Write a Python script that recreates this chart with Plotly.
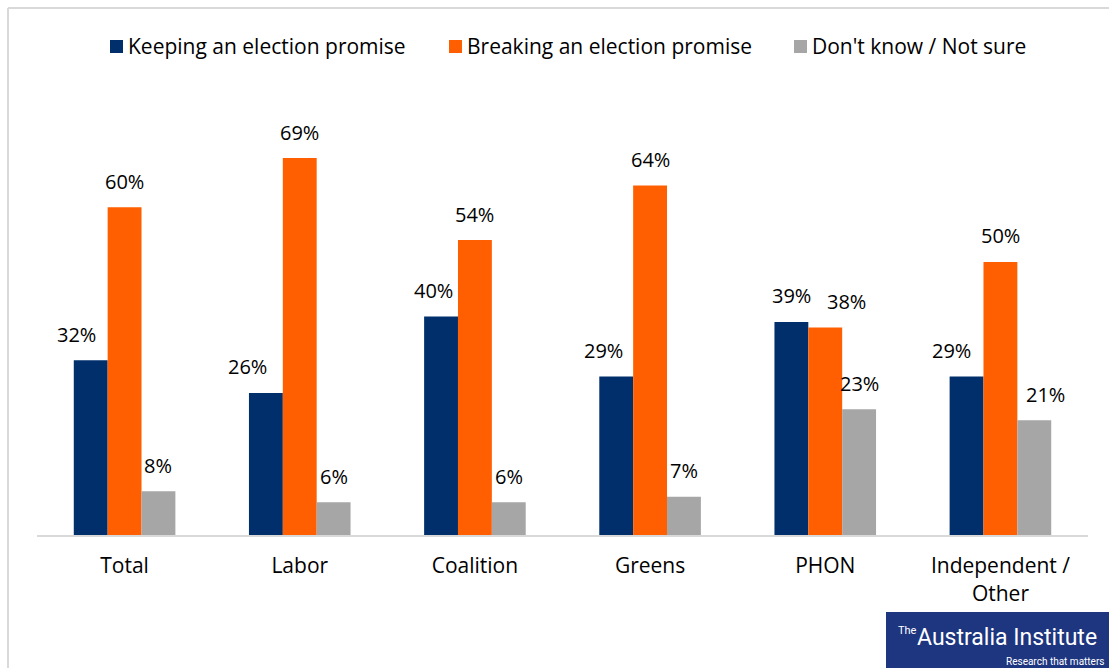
import plotly.graph_objects as go

categories = ["Total", "Labor", "Coalition", "Greens", "PHON", "Independent /<br>Other"]
keeping = [32, 26, 40, 29, 39, 29]
breaking = [60, 69, 54, 64, 38, 50]
dont_know = [8, 6, 6, 7, 23, 21]

series_names = ["Keeping an election promise", "Breaking an election promise", "Don't know / Not sure"]
colors = ["#002f6c", "#ff5f00", "#a6a6a6"]

FONT = "Open Sans"

# page geometry
W, H = 1109, 668
L, R, T, B = 37, 21, 98, 133
PW, PH = W - L - R, H - T - B
BARGAP = 0.42
cat_px = PW / len(categories)
bar_px = cat_px * (1 - BARGAP) / 3

def px(x):
    return (x - L) / PW

def py(y):
    return (H - B - y) / PH

# small label nudges (pixels) as the reference places some labels aside
label_nudge = {
    (0, 0): -14, (0, 1): -18, (0, 2): -8, (0, 3): -13, (0, 4): 0, (0, 5): -15,
    (1, 4): 21,
    (2, 5): 11,
}

fig = go.Figure()
all_vals = [keeping, breaking, dont_know]
for si, (name, vals, col) in enumerate(zip(series_names, all_vals, colors)):
    fig.add_trace(go.Bar(
        x=categories, y=vals, name=name,
        marker=dict(color=col, line=dict(width=0)),
        showlegend=False,
    ))
    for ci, (c, v) in enumerate(zip(categories, vals)):
        fig.add_annotation(
            x=c, y=v, xref="x", yref="y", text=f"{v}%", showarrow=False,
            xshift=(si - 1) * bar_px + label_nudge.get((si, ci), 0), yshift=26,
            yanchor="middle", xanchor="center",
            font=dict(family=FONT, size=20, color="#000000"),
        )

fig.update_layout(
    width=W, height=H,
    margin=dict(l=L, r=R, t=T, b=B),
    paper_bgcolor="white", plot_bgcolor="white",
    barmode="group", bargap=BARGAP, bargroupgap=0,
    font=dict(family=FONT, size=21, color="#000000"),
    showlegend=False,
    xaxis=dict(showline=True, linecolor="#d9d9d9", linewidth=2, ticks="",
               ticklabelstandoff=11,
               tickfont=dict(family=FONT, size=21, color="#000000"), showgrid=False),
    yaxis=dict(range=[0, 80], visible=False, showgrid=False, zeroline=False),
)

# legend drawn as squares and texts
legend_x = [110, 449, 794]
for name, col, lx in zip(series_names, colors, legend_x):
    fig.add_shape(type="rect", xref="paper", yref="paper",
                  x0=px(lx), x1=px(lx + 13), y0=py(53), y1=py(40),
                  fillcolor=col, line=dict(width=0))
    fig.add_annotation(xref="paper", yref="paper", x=px(lx + 16), y=py(46),
                       text=name, showarrow=False, xanchor="left", yanchor="middle",
                       font=dict(family=FONT, size=21, color="#000000"))

# outer chart border (top and left)
fig.add_shape(type="line", xref="paper", yref="paper", x0=px(8), x1=px(W + 5), y0=py(8), y1=py(8),
              line=dict(color="#d9d9d9", width=2))
fig.add_shape(type="line", xref="paper", yref="paper", x0=px(8), x1=px(8), y0=py(8), y1=py(H + 5),
              line=dict(color="#d9d9d9", width=2))

# logo
fig.add_shape(type="rect", xref="paper", yref="paper",
              x0=px(886), x1=px(W + 2), y0=py(H + 2), y1=py(612),
              fillcolor="#1e3580", line=dict(width=0), layer="above")
fig.add_annotation(xref="paper", yref="paper", x=px(919), y=py(630),
                   text="The", showarrow=False, xanchor="right", yanchor="middle",
                   font=dict(family="Roboto", size=11, color="white"))
fig.add_annotation(xref="paper", yref="paper", x=px(1099), y=py(637),
                   text="Australia Institute", showarrow=False, xanchor="right", yanchor="middle",
                   font=dict(family="Roboto", size=23, color="white"))
fig.add_annotation(xref="paper", yref="paper", x=px(1106), y=py(661),
                   text="Research that matters", showarrow=False, xanchor="right", yanchor="middle",
                   font=dict(family="Roboto", size=10, color="white"))

fig.write_html("out.html")
